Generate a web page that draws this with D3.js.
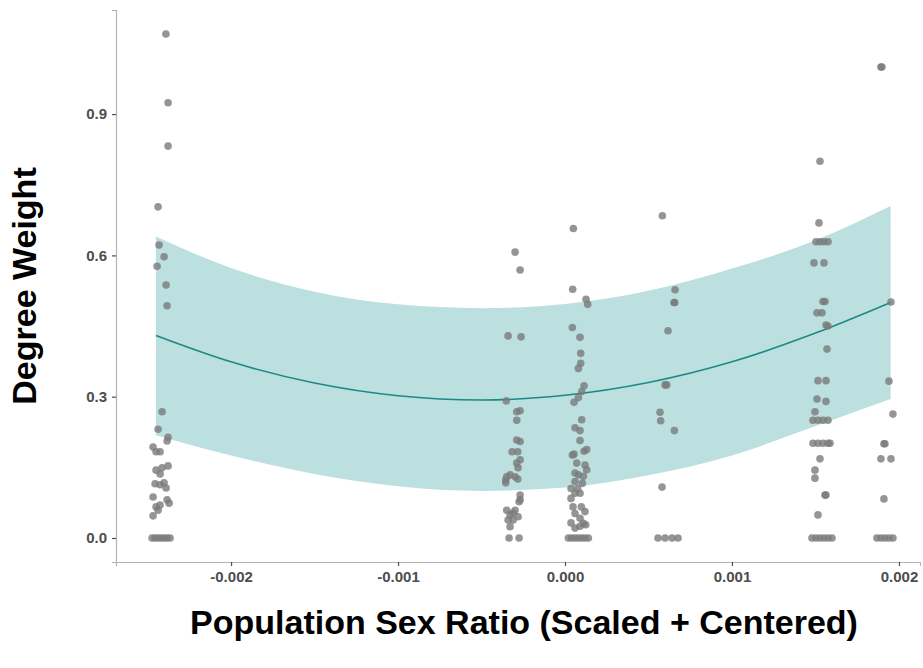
<!DOCTYPE html>
<html lang="en">
  <head>
    <meta charset="UTF-8" />
    <title>Degree Weight vs Population Sex Ratio</title>
    <script src="https://d3js.org/d3.v7.min.js"></script>
    <style>
      body {
        margin: 0;
        background: #ffffff;
        font-family: "Liberation Sans", Arial, sans-serif;
      }
      .tick text {
        font-size: 15px;
        font-weight: bold;
        fill: #4d4d4d;
      }
      .axis-title {
        font-size: 34px;
        font-weight: bold;
        fill: #000;
      }
    </style>
  </head>
  <body>
    <svg id="chart" width="923" height="668"></svg>

    <script>
      const xTicks = [-0.002, -0.001, 0, 0.001, 0.002];
      const yTicks = [0, 0.3, 0.6, 0.9];

      // quadratic fit + confidence band
      const fitX = [-0.00245, -0.002, -0.0015, -0.001, -0.0005, 0, 0.0005, 0.001, 0.0015, 0.00195];
      const fitY = [0.43, 0.374, 0.329, 0.302, 0.293, 0.303, 0.33, 0.374, 0.435, 0.5];
      const fitHi = [0.64, 0.573, 0.523, 0.496, 0.488, 0.497, 0.525, 0.572, 0.632, 0.705];
      const fitLo = [0.218, 0.175, 0.136, 0.11, 0.1, 0.107, 0.133, 0.175, 0.238, 0.295];

      // jittered observations, one array per sex-ratio group
      const groupA = [
        [-0.00239, 1.07], [-0.002377, 0.924], [-0.002377, 0.832], [-0.002437, 0.703],
        [-0.002431, 0.622], [-0.002401, 0.597], [-0.002443, 0.577], [-0.002389, 0.537],
        [-0.002383, 0.493], [-0.002413, 0.268], [-0.002437, 0.231], [-0.002377, 0.214],
        [-0.002383, 0.206], [-0.002467, 0.193], [-0.002449, 0.183], [-0.002425, 0.183],
        [-0.002449, 0.144], [-0.002413, 0.149], [-0.002377, 0.153], [-0.002425, 0.136],
        [-0.002455, 0.115], [-0.002425, 0.113], [-0.002401, 0.117], [-0.002389, 0.106],
        [-0.002467, 0.087], [-0.002383, 0.081], [-0.002371, 0.074], [-0.002449, 0.066],
        [-0.002425, 0.07], [-0.002437, 0.059], [-0.002467, 0.047],
        [-0.002473, 0], [-0.002455, 0], [-0.002437, 0], [-0.002419, 0],
        [-0.002401, 0], [-0.002383, 0], [-0.002365, 0]
      ];
      const groupB = [
        [-0.000299, 0.607], [-0.000269, 0.569], [-0.000341, 0.429], [-0.000263, 0.427],
        [-0.000351, 0.291], [-0.000289, 0.268], [-0.000269, 0.27], [-0.000289, 0.25],
        [-0.000289, 0.208], [-0.000269, 0.205], [-0.000317, 0.183], [-0.000283, 0.183],
        [-0.000269, 0.166], [-0.000289, 0.159], [-0.000281, 0.149], [-0.000329, 0.134],
        [-0.000349, 0.13], [-0.000299, 0.13], [-0.000283, 0.125], [-0.000355, 0.123],
        [-0.000355, 0.117], [-0.000269, 0.091], [-0.000269, 0.081], [-0.000275, 0.077],
        [-0.000349, 0.059], [-0.000299, 0.059], [-0.000311, 0.053], [-0.000329, 0.049],
        [-0.000281, 0.045], [-0.000341, 0.038], [-0.000311, 0.038], [-0.000329, 0.024],
        [-0.000335, 0], [-0.000275, 0]
      ];
      const groupC = [
        [0.00005, 0.657], [0.000046, 0.528], [0.000126, 0.507], [0.000136, 0.496],
        [0.000044, 0.447], [0.00009, 0.426], [0.000094, 0.392], [0.000094, 0.371],
        [0.00008, 0.36], [0.000114, 0.323], [0.0001, 0.311], [0.00008, 0.298],
        [0.000054, 0.288], [0.0001, 0.251], [0.00006, 0.234], [0.00009, 0.228],
        [0.00009, 0.207], [0.000054, 0.178], [0.000044, 0.176], [0.00013, 0.188],
        [0.000114, 0.184], [0.00007, 0.159], [0.00012, 0.155], [0.00013, 0.145],
        [0.00006, 0.138], [0.00008, 0.134], [0.00011, 0.131], [0.00006, 0.12],
        [0.000104, 0.116], [0.000076, 0.105], [0.000036, 0.105], [0.00006, 0.095],
        [0.00009, 0.095], [0.000036, 0.084], [0.000048, 0.066], [0.000098, 0.066],
        [0.00012, 0.056], [0.00006, 0.052], [0.00009, 0.042], [0.000036, 0.032],
        [0.000110, 0.031], [0.00006, 0.021], [0.00009, 0.025], [0.000124, 0.028],
        [0.00002, 0], [0.00004, 0], [0.00006, 0], [0.00008, 0], [0.0001, 0],
        [0.00012, 0], [0.00014, 0]
      ];
      const groupD = [
        [0.000583, 0.684], [0.000659, 0.527], [0.000653, 0.5], [0.000657, 0.5],
        [0.000617, 0.44], [0.000599, 0.325], [0.000609, 0.325], [0.000569, 0.267],
        [0.000573, 0.249], [0.000655, 0.228], [0.000581, 0.108],
        [0.000557, 0], [0.000599, 0], [0.000641, 0], [0.000677, 0]
      ];
      const groupE = [
        [0.001527, 0.8], [0.001521, 0.669], [0.001503, 0.629], [0.001527, 0.629],
        [0.001551, 0.629], [0.001575, 0.629], [0.001491, 0.584], [0.001551, 0.584],
        [0.001545, 0.502], [0.001557, 0.502], [0.001509, 0.478], [0.001539, 0.478],
        [0.001563, 0.452], [0.001575, 0.45], [0.001569, 0.401], [0.001515, 0.334],
        [0.001563, 0.334], [0.001509, 0.295], [0.001563, 0.29], [0.001497, 0.268],
        [0.001485, 0.25], [0.001515, 0.25], [0.001545, 0.25], [0.001575, 0.25],
        [0.001485, 0.201], [0.001515, 0.201], [0.001545, 0.201], [0.001575, 0.201],
        [0.001587, 0.201], [0.001527, 0.168], [0.001497, 0.144], [0.001497, 0.127],
        [0.001557, 0.091], [0.001563, 0.091], [0.001515, 0.049],
        [0.001479, 0], [0.001503, 0], [0.001527, 0], [0.001551, 0], [0.001575, 0], [0.001599, 0]
      ];
      const groupF = [
        [0.001892, 1.0], [0.001898, 1.0], [0.001952, 0.501], [0.00194, 0.333],
        [0.001964, 0.263], [0.00191, 0.2], [0.001916, 0.2], [0.001892, 0.168],
        [0.001952, 0.168], [0.00191, 0.083],
        [0.001868, 0], [0.001892, 0], [0.001916, 0], [0.00194, 0], [0.001964, 0]
      ];

      const svg = d3.select("#chart");
      const margin = { top: 10, right: 3, bottom: 106, left: 116 };
      const width = +svg.attr("width") - margin.left - margin.right;
      const height = +svg.attr("height") - margin.top - margin.bottom;
      const g = svg
        .append("g")
        .attr("transform", `translate(${margin.left},${margin.top})`);

      const x = d3.scaleLinear().domain([-0.002689, 0.002126]).range([0, width]);
      const y = d3.scaleLinear().domain([-0.051, 1.121]).range([height, 0]);

      const band = fitX.map((v, i) => ({ x: v, y: fitY[i], lo: fitLo[i], hi: fitHi[i] }));

      // ribbon
      g.append("path")
        .datum(band)
        .attr("fill", "#bcdfdf")
        .attr(
          "d",
          d3
            .area()
            .curve(d3.curveMonotoneX)
            .x((d) => x(d.x))
            .y0((d) => y(d.lo))
            .y1((d) => y(d.hi))
        );

      // fitted line
      g.append("path")
        .datum(band)
        .attr("fill", "none")
        .attr("stroke", "#1b8a85")
        .attr("stroke-width", 1.6)
        .attr(
          "d",
          d3
            .line()
            .curve(d3.curveMonotoneX)
            .x((d) => x(d.x))
            .y((d) => y(d.y))
        );

      // points
      const points = [].concat(groupA, groupB, groupC, groupD, groupE, groupF);
      g.selectAll("circle")
        .data(points)
        .join("circle")
        .attr("cx", (d) => x(d[0]))
        .attr("cy", (d) => y(d[1]))
        .attr("r", 3.8)
        .attr("fill", "#7a7a7a")
        .attr("fill-opacity", 0.8);

      // axes
      const xAxis = g
        .append("g")
        .attr("transform", `translate(0,${height})`)
        .call(
          d3.axisBottom(x).tickValues(xTicks).tickSize(4).tickPadding(5)
            .tickFormat((d) => d3.format(".3f")(d).replace("−", "-"))
        );
      const yAxis = g
        .append("g")
        .call(
          d3.axisLeft(y).tickValues(yTicks).tickSize(4).tickPadding(5)
            .tickFormat(d3.format(".1f"))
        );
      [xAxis, yAxis].forEach((a) => {
        a.select(".domain").attr("stroke", "#b3b3b3").attr("stroke-width", 1.2);
        a.selectAll(".tick line").attr("stroke", "#4d4d4d").attr("stroke-width", 1.2);
        a.selectAll(".tick text").attr("font-family", "Liberation Sans, Arial, sans-serif");
      });

      // axis titles
      svg.append("text")
        .attr("class", "axis-title")
        .attr("text-anchor", "middle")
        .attr("x", 524)
        .attr("y", 634)
        .text("Population Sex Ratio (Scaled + Centered)");
      svg.append("text")
        .attr("class", "axis-title")
        .attr("text-anchor", "middle")
        .attr("transform", "translate(36,286) rotate(-90)")
        .text("Degree Weight");
    </script>
  </body>
</html>
